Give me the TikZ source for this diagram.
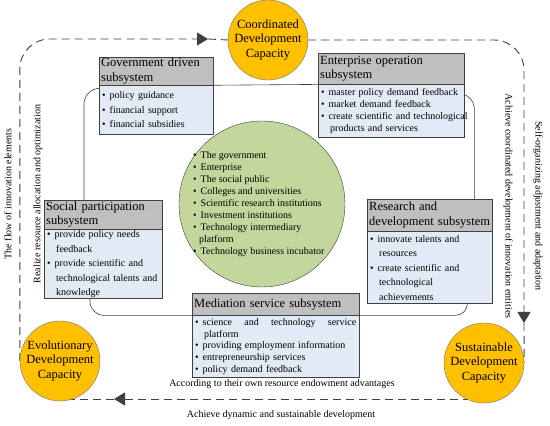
\documentclass[tikz,border=0pt]{standalone}
\usepackage{fontspec}
\setmainfont{Liberation Serif}
\usetikzlibrary{positioning, arrows.meta, backgrounds}

\definecolor{capyellow}{HTML}{FFC000}
\definecolor{hubgreen}{HTML}{C3D69B}
\definecolor{headgray}{HTML}{BFBFBF}
\definecolor{bodyblue}{HTML}{E1EAF5}
\definecolor{edgegray}{HTML}{404040}

% Bullet and continuation indent for the lists
\newcommand{\bul}{\textbullet\hspace{4pt}}
\newcommand{\cont}{\hspace*{9pt}}

\begin{document}
\hyphenpenalty=10000
\begin{tikzpicture}[
		x=1pt, y=1pt,
		% Capacity circles and central hub
		capacity/.style={circle, draw=black!55, fill=capyellow, minimum size=80pt, inner sep=0pt, align=center, font=\fontsize{12.5}{14.5}\selectfont},
		hub/.style={circle, draw=edgegray, fill=hubgreen, minimum size=166pt, inner sep=0pt},
		% Subsystem boxes: gray title + blue list
		headbox/.style={draw=edgegray, fill=headgray, anchor=north west, align=left, inner xsep=2pt, inner ysep=1pt, font=\fontsize{12.5}{14.5}\selectfont},
		bodybox/.style={draw=edgegray, fill=bodyblue, align=left, inner xsep=3pt, inner ysep=1pt, font=\fontsize{10}{14.5}\selectfont},
		% Connectors
		link/.style={draw=edgegray, line width=0.6pt},
		flowline/.style={draw=black!75, line width=0.9pt, dash pattern=on 8pt off 5pt},
		flowarrow/.style={flowline, -{Triangle[length=11pt, width=13pt]}},
		sidelabel/.style={font=\fontsize{10}{12}\selectfont, inner sep=0pt}
		]
		\useasboundingbox (0,0) rectangle (550,426);
		
		% --- CAPACITY CIRCLES ---
		\node[capacity] (coord) at (268,386) {Coordinated\\Development\\Capacity};
		\node[capacity] (evo) at (60,65) {Evolutionary\\Development\\Capacity};
		\node[capacity] (sus) at (484,63) {Sustainable\\Development\\Capacity};
		
		% --- CENTRAL HUB ---
		\node[hub] (hub) at (262,222) {};
		\node[font=\fontsize{10}{12}\selectfont, align=left, anchor=west, inner sep=0pt] (members) at ([xshift=-69pt]hub.center) {%
			\bul The government\\
			\bul Enterprise\\
			\bul The social public\\
			\bul Colleges and universities\\
			\bul Scientific research institutions\\
			\bul Investment institutions\\
			\bul Technology intermediary\\
			\hspace*{6pt}platform\\
			\bul Technology business incubator};
		
		% --- SUBSYSTEMS ---
		% Government driven
		\node[headbox, text width=110pt, minimum height=27pt] (govhead) at (99,369) {Government driven\\subsystem};
		\node[bodybox, text width=108pt, minimum height=49pt, below=0pt of govhead] (govbody) {%
			\bul policy guidance\\
			\bul financial support\\
			\bul financial subsidies};
		
		% Enterprise operation
		\node[headbox, text width=142pt, minimum height=31pt] (enthead) at (318,373) {Enterprise operation\\subsystem};
		\node[bodybox, text width=140pt, minimum height=53pt, below=0pt of enthead, font=\fontsize{10}{12}\selectfont] (entbody) {%
			\bul master policy demand feedback\\
			\bul market demand feedback\\
			\mbox{\bul create scientific and technological}\\
			\cont products and services};
		
		% Social participation
		\node[headbox, text width=114pt, minimum height=29pt] (sochead) at (44,226) {Social participation\\subsystem};
		\node[bodybox, text width=112pt, minimum height=69pt, below=0pt of sochead] (socbody) {%
			\bul provide policy needs\\
			\cont feedback\\
			\bul provide scientific and\\
			\cont technological talents and\\
			\cont knowledge};
		
		% Research and development
		\node[headbox, text width=121pt, minimum height=32pt] (rdhead) at (367,227) {Research and\\development subsystem};
		\node[bodybox, text width=119pt, minimum height=72pt, below=0pt of rdhead] (rdbody) {%
			\bul innovate talents and\\
			\cont resources\\
			\bul create scientific and\\
			\cont technological\\
			\cont achievements};
		
		% Mediation service
		\node[headbox, text width=163pt, minimum height=22pt] (medhead) at (192,133) {Mediation service subsystem};
		\node[bodybox, text width=161pt, minimum height=62pt, below=0pt of medhead, font=\fontsize{10}{11.7}\selectfont] (medbody) {%
			\bul science\hfill and\hfill technology\hfill service\\
			\cont platform\\
			\bul providing employment information\\
			\bul entrepreneurship services\\
			\bul policy demand feedback};
		
		% --- SIDE LABELS ---
		\node[sidelabel, rotate=90] (flowlbl) at (8,232) {The flow of innovation elements};
		\node[sidelabel, rotate=90] (realizelbl) at (38,232) {Realize resource allocation and optimization};
		\node[sidelabel, rotate=-90] (achievelbl) at (508,220) {Achieve coordinated development of innovation entities};
		\node[sidelabel, rotate=-90] (selflbl) at (538,220) {Self-organizing adjustment and adaptation};
		\node[sidelabel] (accordlbl) at (282,42) {According to their own resource endowment advantages};
		\node[sidelabel] (dynlbl) at (281,11) {Achieve dynamic and sustainable development};
		
		% Arrow tip positions on the outer loop
		\coordinate (toptip) at (208,387);
		\coordinate (righttip) at (524,103);
		\coordinate (bottip) at (114,27);
		
		\begin{scope}[on background layer]
			% --- INNER RING BETWEEN SUBSYSTEMS ---
			\draw[link] (govhead.south east) -- (enthead.south west);
			\draw[link, rounded corners=16pt] ([yshift=-9pt]entbody.north east) -| ([xshift=-18pt]rdhead.north east);
			\draw[link, rounded corners=16pt] ([yshift=-3pt]govbody.north west) -| ([xshift=40pt]sochead.north west);
			\draw[link, rounded corners=14pt] ([xshift=46pt]socbody.south west) |- (medbody.north west);
			\draw[link, rounded corners=12pt] (medbody.north east) -| ([xshift=-25pt]rdbody.south east);
			
			% --- OUTER DASHED LOOP ---
			\draw[flowarrow, rounded corners=30pt] (evo.west) |- (toptip);
			\draw[flowline] (toptip) -- (coord.west);
			\draw[flowarrow, rounded corners=30pt] (coord.east) -| (righttip);
			\draw[flowline] (righttip) -- (sus.east);
			\draw[flowarrow] ([yshift=-36pt]sus.center) -- (bottip);
			\draw[flowline] (bottip) -- (bottip -| evo.center);
		\end{scope}
		
	\end{tikzpicture}
\end{document}
